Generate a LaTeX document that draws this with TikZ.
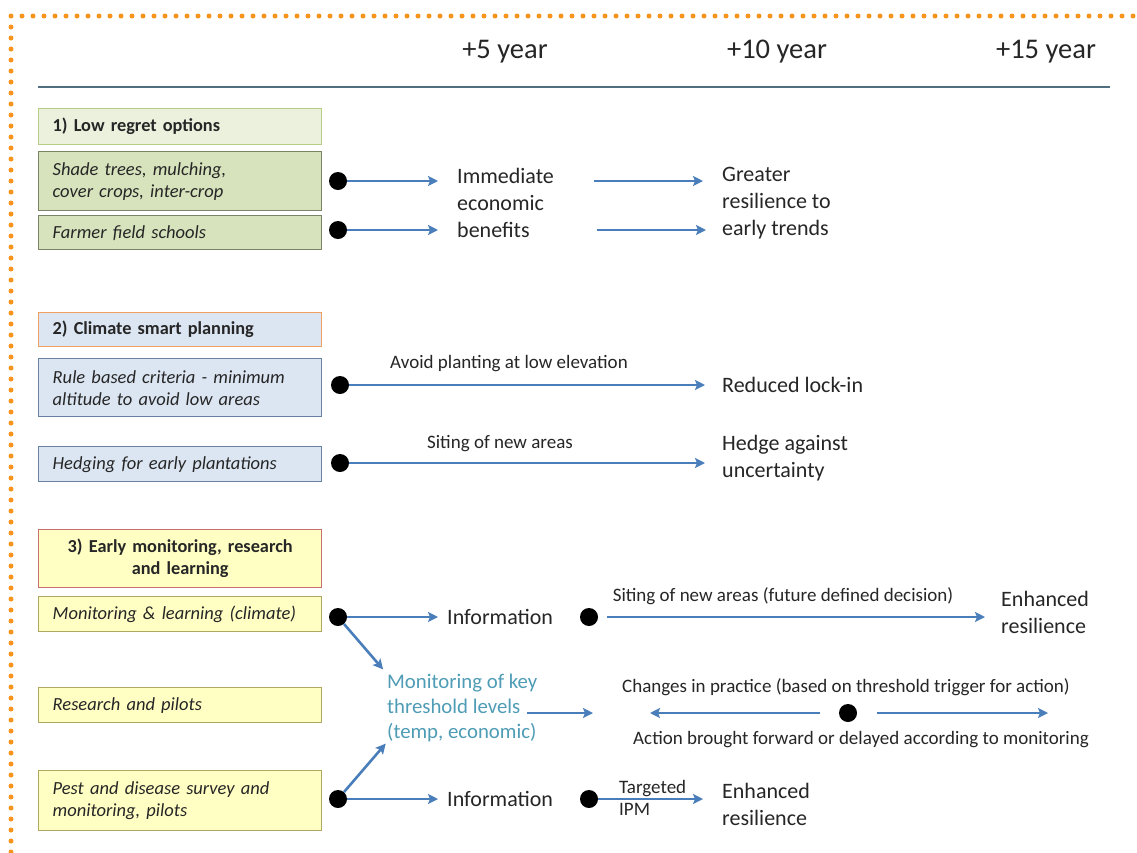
\documentclass[tikz,border=0pt]{standalone}
\usepackage{fontspec}
\setmainfont{Carlito}
\usetikzlibrary{arrows.meta}
\definecolor{txtc}{HTML}{262626}
\definecolor{arrc}{HTML}{4A7EBB}
\definecolor{dotor}{HTML}{F7941D}
\definecolor{hlc}{HTML}{50707F}
\definecolor{gA}{HTML}{EBF1DD}
\definecolor{gAb}{HTML}{B5CD85}
\definecolor{gB}{HTML}{D7E3BC}
\definecolor{gBb}{HTML}{7A8465}
\definecolor{bA}{HTML}{DCE6F2}
\definecolor{bAb}{HTML}{F0A060}
\definecolor{bBb}{HTML}{6A80A0}
\definecolor{yA}{HTML}{FFFFC4}
\definecolor{yAb}{HTML}{C87070}
\definecolor{yBb}{HTML}{B0A860}
\definecolor{tealc}{HTML}{4E9CB5}
\tikzset{
  yr/.style={font=\fontsize{28.5}{30}\selectfont, text=txtc, inner sep=0},
  hline/.style={draw=hlc, line width=2},
  boxbase/.style={line width=1.4, anchor=north west, minimum width=283, text width=255, inner xsep=14, inner ysep=2, text=txtc},
  hdr/.style={boxbase, align=left, font=\fontsize{18.3}{22}\selectfont\bfseries},
  itm/.style={boxbase, align=left, font=\fontsize{18.5}{22}\selectfont\itshape},
  dot/.style={circle, fill=black, minimum size=18, inner sep=0},
  txt/.style={anchor=west, inner sep=0, align=left, text=txtc, font=\fontsize{22}{27}\selectfont},
  lbl/.style={inner sep=0, text=txtc, font=\fontsize{19}{22}\selectfont},
  arr/.style={draw=arrc, line width=2.6, -{Stealth[length=10,width=10,inset=2]}},
  orange dots/.style={draw=dotor, line width=5, line cap=round, dash pattern=on 0pt off 11pt}
}
\begin{document}
\begin{tikzpicture}[x=1pt,y=-1pt]
\useasboundingbox (0,0) rectangle (1137,852);
\fill[white] (0,0) rectangle (1137,852);
% dotted frame
\coordinate (fb) at (11,852);
\coordinate (fc) at (11,16);
\coordinate (fr) at (1137,16);
\draw[orange dots] (fb) -- (fc) -- (fr);
% header
\node[yr] (y5) at (505,52) {+5 year};
\node[yr] (y10) at (777,52) {+10 year};
\node[yr] (y15) at (1046,52) {+15 year};
\coordinate (tl) at (38,87);
\coordinate (tr) at (1110,87);
\draw[hline] (tl) -- (tr);
% boxes
\node[hdr, fill=gA, draw=gAb, minimum height=36] (h1) at (38,108) {1) Low regret options};
\node[itm, fill=gB, draw=gBb, minimum height=59] (b11) at (38,151) {Shade trees, mulching,\\cover crops, inter-crop};
\node[itm, fill=gB, draw=gBb, minimum height=34] (b12) at (38,215) {Farmer field schools};
\node[hdr, fill=bA, draw=bAb, minimum height=34] (h2) at (38,312) {2) Climate smart planning};
\node[itm, fill=bA, draw=bBb, minimum height=58] (b21) at (38,358) {Rule based criteria - minimum\\altitude to avoid low areas};
\node[itm, fill=bA, draw=bBb, minimum height=35] (b22) at (38,446) {Hedging for early plantations};
\node[hdr, fill=yA, draw=yAb, minimum height=58, align=center] (h3) at (38,529) {3) Early monitoring, research\\and learning};
\node[itm, fill=yA, draw=yBb, minimum height=35] (b31) at (38,596) {Monitoring \& learning (climate)};
\node[itm, fill=yA, draw=yBb, minimum height=35] (b32) at (38,687) {Research and pilots};
\node[itm, fill=yA, draw=yBb, minimum height=60] (b33) at (38,770) {Pest and disease survey and\\monitoring, pilots};
% dots
\node[dot] (d11) at (338,181) {};
\node[dot] (d12) at (338,230) {};
\node[dot] (d21) at (340,385) {};
\node[dot] (d22) at (340,463) {};
\node[dot] (d31) at (338,617) {};
\node[dot] (d32) at (589,617) {};
\node[dot] (d4) at (848,713) {};
\node[dot] (d51) at (338,799) {};
\node[dot] (d52) at (589,799) {};
% texts
\node[txt] (imm) at (457,203) {Immediate\\economic\\benefits};
\node[txt] (gre) at (722,203) {Greater\\resilience to\\early trends};
\node[txt] (red) at (722,385) {Reduced lock-in};
\node[txt] (hed) at (722,458) {Hedge against\\uncertainty};
\node[txt] (inf1) at (447,617) {Information};
\node[txt] (enh1) at (1001,612) {Enhanced\\resilience};
\node[txt, text=tealc, font=\fontsize{20.8}{25}\selectfont] (mon) at (387,708) {Monitoring of key\\threshold levels\\(temp, economic)};
\node[txt] (inf2) at (447,799) {Information};
\node[txt] (enh2) at (722,804) {Enhanced\\resilience};
% labels
\node[lbl] (l21) at (509,364) {Avoid planting at low elevation};
\node[lbl] (l22) at (500,444) {Siting of new areas};
\node[lbl] (l3) at (783,596) {Siting of new areas (future defined decision)};
\node[lbl] (l4a) at (846,687) {Changes in practice (based on threshold trigger for action)};
\node[lbl] (l4b) at (861,740) {Action brought forward or delayed according to monitoring};
\node[lbl, anchor=west, align=left, font=\fontsize{19}{22}\selectfont] (ipm) at (619,798) {Targeted\\IPM};
% free ends
\coordinate (ms) at (527,713);
\coordinate (me) at (593,713);
\coordinate (la) at (650,713);
\coordinate (ra) at (1048,713);
% arrows
\draw[arr, shorten >=19] (d11) -- (imm.west |- d11);
\draw[arr, shorten >=19] (d12) -- (imm.west |- d12);
\draw[arr, shorten <=40, shorten >=19] (imm.east |- d11) -- (gre.west |- d11);
\draw[arr, shorten <=43, shorten >=16] (imm.east |- d12) -- (gre.west |- d12);
\draw[arr, shorten >=17] (d21) -- (red.west |- d21);
\draw[arr, shorten >=17] (d22) -- (hed.west |- d22);
\draw[arr, shorten >=9] (d31) -- (inf1.west);
\draw[arr, shorten <=9, shorten >=16] (d32) -- (enh1.west |- d32);
\draw[arr, shorten >=6] (d31) -- (mon.north west);
\draw[arr] (ms) -- (me);
\draw[arr, shorten <=19] (d4) -- (la);
\draw[arr, shorten <=20] (d4) -- (ra);
\draw[arr, shorten >=9] (d51) -- (inf2.west);
\draw[arr, shorten >=2] (d51) -- (mon.south west);
\draw[arr, shorten >=19] (d52) -- (enh2.west |- d52);
\end{tikzpicture}
\end{document}
